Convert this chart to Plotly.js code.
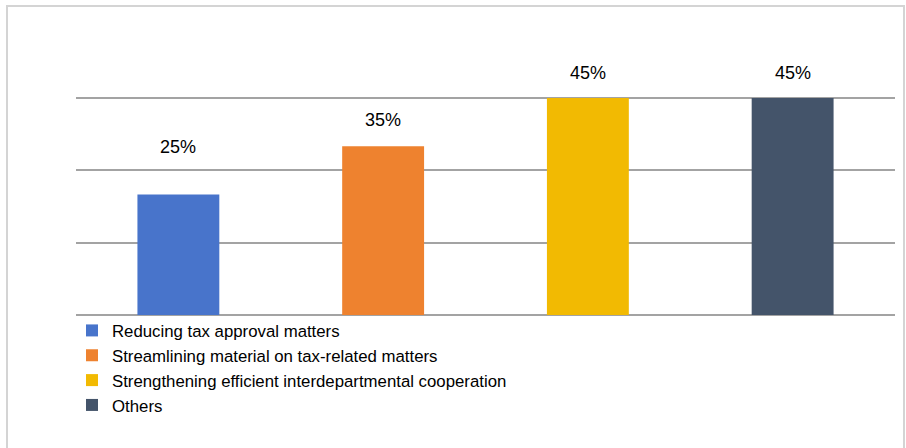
<!DOCTYPE html>
<html>
<head>
<meta charset="utf-8">
<script src="https://cdn.plot.ly/plotly-3.0.1.min.js"></script>
<style>
html,body{margin:0;padding:0;background:#fff;}
#chart{width:906px;height:448px;}
</style>
</head>
<body>
<div id="chart"></div>
<script>
const categories = [
  "Reducing tax approval matters",
  "Streamlining material on tax-related matters",
  "Strengthening efficient interdepartmental cooperation",
  "Others"
];
const values = [25, 35, 45, 45];
const valueLabels = ["25%", "35%", "45%", "45%"];
const colors = ["#4874CB", "#EE822F", "#F2BA02", "#44546A"];
const labelShift = [48, 26, 25, 25];

const traces = categories.map((c, i) => ({
  type: "bar",
  name: c,
  x: [c],
  y: [values[i]],
  width: 0.4,
  marker: {color: colors[i]},
  hoverinfo: "skip"
}));

const annotations = categories.map((c, i) => ({
  x: c, y: values[i], xref: "x", yref: "y",
  text: valueLabels[i], showarrow: false,
  yanchor: "middle", yshift: labelShift[i],
  font: {size: 18, color: "#000"}
}));

const plotH = 241;
const layout = {
  width: 906, height: 448,
  margin: {l: 76, r: 11, t: 74, b: 133},
  paper_bgcolor: "#fff", plot_bgcolor: "#fff",
  font: {family: "Liberation Sans, Arial, Helvetica, sans-serif", color: "#000"},
  barmode: "overlay",
  showlegend: true,
  legend: {
    orientation: "v", x: -4 / 819, xanchor: "left", y: 2 / plotH, yanchor: "top",
    font: {size: 16.8, color: "#000"}, tracegroupgap: 0, itemwidth: 30,
    traceorder: "normal", bgcolor: "rgba(0,0,0,0)", borderwidth: 0
  },
  xaxis: {type: "category", categoryarray: categories, showticklabels: false,
          showgrid: false, zeroline: false, showline: false, ticks: "", fixedrange: true},
  yaxis: {range: [0, 50], dtick: 15, showticklabels: false, showgrid: true,
          gridcolor: "#a3a3a3", gridwidth: 2, zeroline: true, zerolinecolor: "#a3a3a3",
          zerolinewidth: 2, ticks: "", fixedrange: true},
  annotations: annotations,
  shapes: [{
    type: "rect", xref: "paper", yref: "paper",
    x0: (7 - 76) / 819, x1: (904 - 76) / 819,
    y0: -(460 - 315) / plotH, y1: (315 - 6) / plotH,
    line: {color: "#d4d4d4", width: 2}, fillcolor: "rgba(0,0,0,0)", layer: "below"
  }]
};

Plotly.newPlot("chart", traces, layout, {displayModeBar: false, staticPlot: true});
</script>
</body>
</html>
